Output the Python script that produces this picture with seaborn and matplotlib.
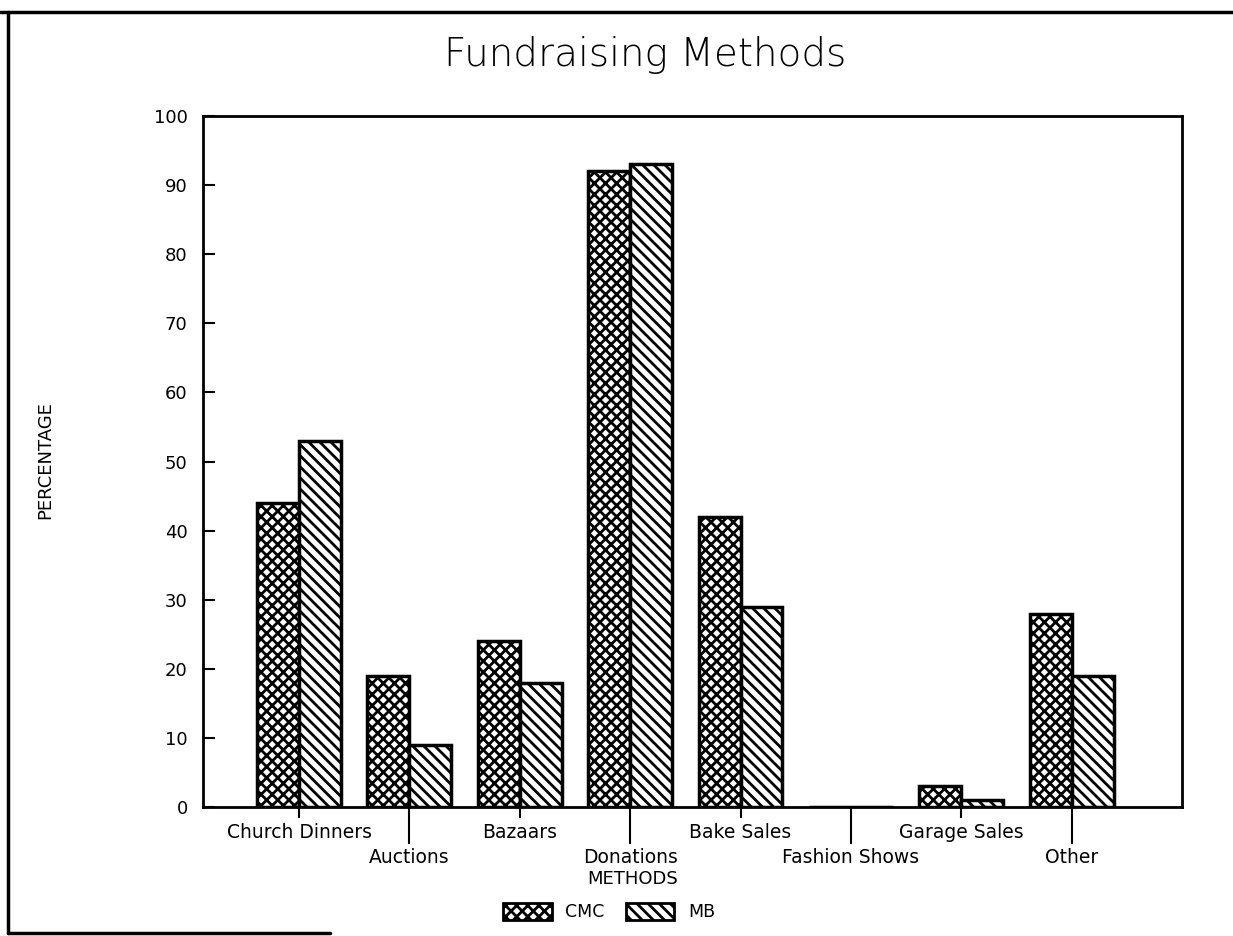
import matplotlib
matplotlib.use("Agg")
import matplotlib.pyplot as plt
from matplotlib.patches import Patch
from matplotlib.lines import Line2D
import seaborn as sns
import pandas as pd

categories = ["Church Dinners", "Auctions", "Bazaars", "Donations",
              "Bake Sales", "Fashion Shows", "Garage Sales", "Other"]
cmc_values = [44, 19, 24, 92, 42, 0, 3, 28]
mb_values = [53, 9, 18, 93, 29, 0, 1, 19]
series_names = ["CMC", "MB"]
y_ticks = [0, 10, 20, 30, 40, 50, 60, 70, 80, 90, 100]

df = pd.DataFrame({
    "Method": categories * 2,
    "Percentage": cmc_values + mb_values,
    "Group": [series_names[0]] * len(categories) + [series_names[1]] * len(categories),
})

sns.set_theme(style="white")
plt.rcParams["font.family"] = ["DejaVu Sans"]
plt.rcParams["text.color"] = "black"
plt.rcParams["xtick.color"] = "black"
plt.rcParams["ytick.color"] = "black"
plt.rcParams["axes.labelcolor"] = "black"
plt.rcParams["hatch.linewidth"] = 2.0
plt.rcParams["hatch.color"] = "black"

fig = plt.figure(figsize=(12.33, 9.36), dpi=100)
ax = fig.add_axes([203 / 1233, 1 - 807 / 936, (1182 - 203) / 1233, (807 - 116) / 936])

sns.barplot(data=df, x="Method", y="Percentage", hue="Group", order=categories,
            hue_order=series_names, palette=["white", "white"], width=0.76, gap=0,
            edgecolor="black", linewidth=2.5, ax=ax, legend=False, saturation=1)

hatches = ["xxx", "\\\\\\"]
for cont, h in zip(ax.containers, hatches):
    for bar in cont:
        bar.set_hatch(h)
        bar.set_edgecolor("black")

ax.set_xlim(-0.87, 8.0)
ax.set_ylim(0, 100)
ax.set_yticks(y_ticks)
ax.set_yticklabels([str(v) for v in y_ticks], fontsize=13, color="black")
ax.tick_params(axis="y", direction="in", length=8.5, width=1.5, pad=11, left=True, colors="black")

even = list(range(0, len(categories), 2))
odd = list(range(1, len(categories), 2))
ax.set_xticks(even)
ax.set_xticklabels([categories[i] for i in even], fontsize=13.5, color="black")
ax.set_xticks(odd, minor=True)
ax.set_xticklabels([categories[i] for i in odd], minor=True, fontsize=13.5, color="black")
ax.tick_params(axis="x", which="major", direction="out", length=8, width=1.5, pad=3.5, bottom=True, colors="black")
ax.tick_params(axis="x", which="minor", direction="out", length=26.5, width=1.5, pad=3, bottom=True, colors="black")

for s in ax.spines.values():
    s.set_visible(True)
    s.set_color("black")
    s.set_linewidth(2)

ax.set_xlabel("")
ax.set_ylabel("")

fig.text(0.523, 1 - 55 / 936, "Fundraising Methods", ha="center", va="center",
         fontsize=28, fontweight="light", color="black")
fig.text(45 / 1233, 1 - 460 / 936, "PERCENTAGE", rotation=90, ha="center",
         va="center", fontsize=13, color="black")
fig.text(633 / 1233, 1 - 879 / 936, "METHODS", ha="center", va="center", fontsize=13,
         color="black")

handles = [Patch(facecolor="white", edgecolor="black", hatch=h, linewidth=2) for h in hatches]
fig.legend(handles=handles, labels=series_names, ncol=2, loc="center",
           bbox_to_anchor=(0.494, 1 - 912 / 936), frameon=False, fontsize=12.5,
           handlelength=2.8, handleheight=1.1, columnspacing=1.2, handletextpad=0.8,
           labelcolor="black")

# page frame
fig.add_artist(Line2D([0.0, 1.0], [1 - 12 / 936, 1 - 12 / 936], transform=fig.transFigure,
                      color="black", linewidth=2.5))
fig.add_artist(Line2D([8 / 1233, 8 / 1233], [1 - 12 / 936, 1 - 933 / 936], transform=fig.transFigure,
                      color="black", linewidth=2.5))
fig.add_artist(Line2D([8 / 1233, 330 / 1233], [1 - 933 / 936, 1 - 933 / 936], transform=fig.transFigure,
                      color="black", linewidth=2.5))

fig.savefig("out.png", dpi=100, facecolor="white")
